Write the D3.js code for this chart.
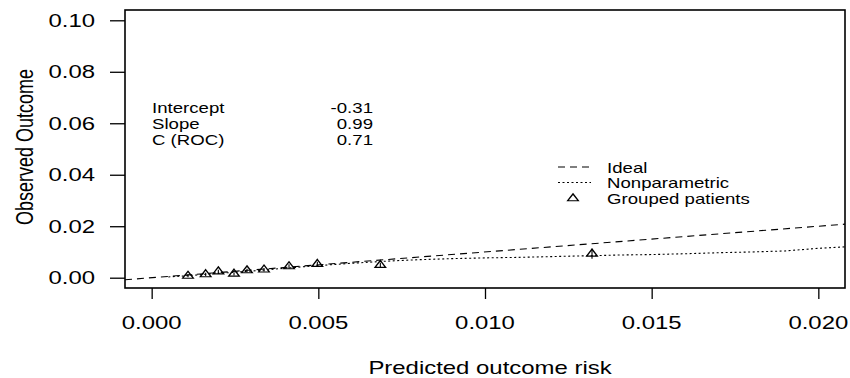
<!DOCTYPE html>
<html><head><meta charset="utf-8">
<script src="https://cdn.jsdelivr.net/npm/d3@7"></script>
<style>body{margin:0;background:#fff}svg{display:block}text{font-family:"Liberation Sans",Arial,sans-serif;fill:#000}</style>
</head><body><svg id="c" width="850" height="378"></svg>
<script>
// ---- data ----
const xTicks = [0.000, 0.005, 0.010, 0.015, 0.020];
const yTicks = [0.00, 0.02, 0.04, 0.06, 0.08, 0.10];
const idealX = [-0.0008, 0.0208];
const npX = [0.0005, 0.0010, 0.0015, 0.0020, 0.0025, 0.0030, 0.0035, 0.0040, 0.0045, 0.0050, 0.0060, 0.0070, 0.0080, 0.0090, 0.0100, 0.0110, 0.0120, 0.0130, 0.0140, 0.0150, 0.0160, 0.0170, 0.0180, 0.0190, 0.0200, 0.0208];
const npY = [0.0003, 0.0007, 0.0012, 0.0017, 0.0021, 0.0026, 0.0031, 0.0037, 0.0042, 0.0047, 0.0056, 0.0064, 0.0070, 0.0074, 0.0077, 0.0079, 0.0082, 0.0085, 0.0088, 0.0090, 0.0093, 0.0097, 0.0100, 0.0104, 0.0114, 0.0120];
const grpX = [0.00109, 0.00162, 0.00200, 0.00247, 0.00286, 0.00337, 0.00412, 0.00497, 0.00686, 0.01321];
const grpY = [0.0007, 0.0013, 0.0024, 0.0015, 0.0028, 0.0031, 0.0044, 0.0053, 0.0049, 0.0093];
const grpLo = [0.0002, 0.0007, 0.0017, 0.0009, 0.0021, 0.0024, 0.0036, 0.0044, 0.0040, 0.0074];
const grpHi = [0.0012, 0.0019, 0.0031, 0.0021, 0.0035, 0.0038, 0.0052, 0.0062, 0.0058, 0.0112];
const statLabels = ["Intercept", "Slope", "C (ROC)"];
const statValues = ["-0.31", "0.99", "0.71"];
const legendLabels = ["Ideal", "Nonparametric", "Grouped patients"];

// ---- layout ----
const SX = 1.33;
const L = 125, R = 845, T = 10, B = 288;
const svg = d3.select("#c");
const x = d3.scaleLinear().domain([-0.0008, 0.0208]).range([L, R]);
const y = d3.scaleLinear().domain([-0.004, 0.104]).range([B, T]);

function txt(g, px, py, s, size, anchor, extra) {
  return g.append("text")
    .attr("transform", `translate(${px},${py}) scale(${SX},1)` + (extra || ""))
    .attr("text-anchor", anchor).style("font-size", size + "px").text(s);
}

svg.append("defs").append("clipPath").attr("id", "clip")
  .append("rect").attr("x", L).attr("y", T).attr("width", R - L).attr("height", B - T);

// axes
const xa = svg.append("g").attr("transform", `translate(0,${B})`)
  .call(d3.axisBottom(x).tickValues(xTicks).tickSize(11).tickFormat(""));
xa.select(".domain").remove();
xa.selectAll("line").attr("stroke", "#000").attr("stroke-width", 1.3);
xTicks.forEach(v => txt(svg, x(v), 329, d3.format(".3f")(v), 18, "middle"));

const ya = svg.append("g").attr("transform", `translate(${L},0)`)
  .call(d3.axisLeft(y).tickValues(yTicks).tickSize(15).tickFormat(""));
ya.select(".domain").remove();
ya.selectAll("line").attr("stroke", "#000").attr("stroke-width", 1.3);
yTicks.forEach(v => txt(svg, 95, y(v) + 6.5, d3.format(".2f")(v), 18, "end"));

// frame
svg.append("rect").attr("x", L).attr("y", T).attr("width", R - L).attr("height", B - T)
  .attr("fill", "none").attr("stroke", "#000").attr("stroke-width", 1.6);

// axis titles
txt(svg, 490, 374, "Predicted outcome risk", 18, "middle");
svg.append("text").attr("transform", `translate(33,147) scale(${SX},1) rotate(-90)`)
  .attr("text-anchor", "middle").style("font-size", "18px").text("Observed Outcome");

// lines
const pg = svg.append("g").attr("clip-path", "url(#clip)");
const line = d3.line().x(d => x(d[0])).y(d => y(d[1]));
pg.append("path").datum(idealX.map(v => [v, v])).attr("d", line)
  .attr("fill", "none").attr("stroke", "#000").attr("stroke-width", 1.1).attr("stroke-dasharray", "7,5");
pg.append("path").datum(npX.map((v, i) => [v, npY[i]])).attr("d", line)
  .attr("fill", "none").attr("stroke", "#000").attr("stroke-width", 1.1).attr("stroke-dasharray", "2,2.5");

// grouped patients
const tri = d3.symbol().type(d3.symbolTriangle).size(28);
grpX.forEach((v, i) => {
  pg.append("line").attr("x1", x(v)).attr("x2", x(v)).attr("y1", y(grpLo[i])).attr("y2", y(grpHi[i]))
    .attr("stroke", "#000").attr("stroke-width", 1.1);
  pg.append("path").attr("d", tri).attr("transform", `translate(${x(v)},${y(grpY[i])}) scale(${SX},1)`)
    .attr("fill", "none").attr("stroke", "#000").attr("stroke-width", 1.1);
});

// stats text
statLabels.forEach((s, i) => {
  txt(svg, 152, 113 + i * 16, s, 14, "start");
  txt(svg, 373, 113 + i * 16, statValues[i], 14, "end");
});

// legend
const lg = svg.append("g");
lg.append("line").attr("x1", 558).attr("x2", 591).attr("y1", 167).attr("y2", 167)
  .attr("stroke", "#000").attr("stroke-width", 1.1).attr("stroke-dasharray", "7,5");
lg.append("line").attr("x1", 558).attr("x2", 591).attr("y1", 182.5).attr("y2", 182.5)
  .attr("stroke", "#000").attr("stroke-width", 1.1).attr("stroke-dasharray", "2,2.5");
lg.append("path").attr("d", tri).attr("transform", `translate(573,198.5) scale(${SX},1)`)
  .attr("fill", "none").attr("stroke", "#000").attr("stroke-width", 1.1);
legendLabels.forEach((s, i) => txt(lg, 607, 172.5 + i * 15.7, s, 14, "start"));
</script></body></html>
